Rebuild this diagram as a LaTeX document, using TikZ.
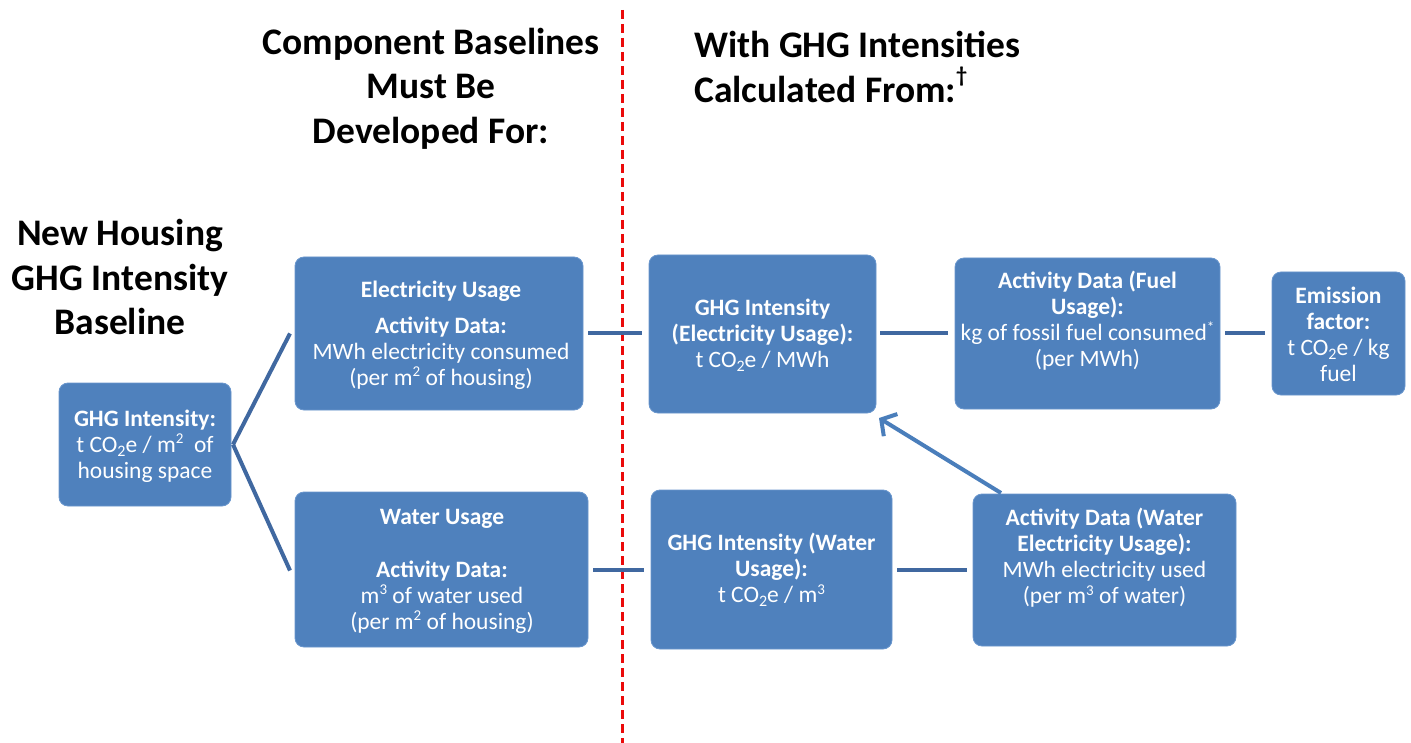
\documentclass[tikz,border=0pt]{standalone}
\usepackage{fontspec}
\setmainfont{Carlito}
\usetikzlibrary{calc,arrows.meta}
\definecolor{boxblue}{RGB}{79,129,189}
\definecolor{boxborder}{RGB}{105,150,205}
\definecolor{linkblue}{RGB}{64,104,160}
\definecolor{arrowblue}{RGB}{74,126,187}
\definecolor{dashred}{RGB}{235,10,10}
\newcommand{\mysub}[1]{\raisebox{-0.35ex}{\fontsize{16}{16}\selectfont #1}}
\newcommand{\mysup}[1]{\raisebox{0.75ex}{\fontsize{15}{15}\selectfont #1}}
\begin{document}
\begin{tikzpicture}[x=1pt,y=-1pt,
  box/.style={rounded corners=9pt, fill=boxblue, draw=boxborder, line width=0.8pt, inner sep=0pt, outer sep=0pt},
  btext/.style={text=white, align=center, font=\fontsize{23.5}{26}\selectfont, inner sep=0pt},
  titletext/.style={align=center, font=\fontsize{37.5}{44.5}\selectfont\bfseries, inner sep=0pt},
  link/.style={draw=linkblue, line width=4pt},
  upar/.style={draw=arrowblue, line width=4pt, -{Straight Barb[length=11pt,width=26pt]}}]
\useasboundingbox (0,0) rectangle (1411,743);
\fill[white] (0,0) rectangle (1411,743);

% titles
\node[titletext] (t1) at (120,277) {New Housing\\GHG Intensity\\Baseline};
\node[titletext] (t2) at (431,88.5) {Component Baselines\\Must Be\\Developed For:};
\node[titletext, align=left, anchor=west] (t3) at (694,67) {With GHG Intensities\\Calculated From:\raisebox{1.1ex}{\fontsize{22}{22}\selectfont\textdagger}};

% divider
\coordinate (rtop) at (622,10);
\coordinate (rbot) at (622,743);
\draw[dashred, line width=3pt, dash pattern=on 9pt off 5pt] (rtop) -- (rbot);

% boxes
\node[box, minimum width=172pt, minimum height=123pt] (A) at (145,444.5) {};
\node[box, minimum width=288pt, minimum height=153pt] (B) at (439,333.5) {};
\node[box, minimum width=293pt, minimum height=155pt] (C) at (441.5,569.5) {};
\node[box, minimum width=227pt, minimum height=158pt] (D) at (762.5,334) {};
\node[box, minimum width=265pt, minimum height=151pt] (E) at (1087.5,333.5) {};
\node[box, minimum width=133pt, minimum height=123pt] (F) at (1338.5,333.5) {};
\node[box, minimum width=241pt, minimum height=159pt] (G) at (771.5,569.5) {};
\node[box, minimum width=263pt, minimum height=152pt] (H) at (1104.5,570) {};

% box texts
\node[btext] (At) at (145,446) {\textbf{GHG Intensity:}\\t CO\mysub{2}e / m\mysup{2}\ \ of\\housing space};
\node[btext] (Bt) at (441,335) {\textbf{Electricity Usage}\\[10pt]\textbf{Activity Data:}\\MWh electricity consumed\\(per m\mysup{2} of housing)};
\node[btext] (Ct) at (442,571) {\textbf{Water Usage}\\[27pt]\textbf{Activity Data:}\\m\mysup{3} of water used\\(per m\mysup{2} of housing)};
\node[btext] (Dt) at (762.5,335) {\textbf{GHG Intensity}\\\textbf{(Electricity Usage):}\\t CO\mysub{2}e / MWh};
\node[btext] (Et) at (1087.5,321) {\textbf{Activity Data (Fuel}\\\textbf{Usage):}\\kg of fossil fuel consumed\mysup{*}\\(per MWh)};
\node[btext] (Ft) at (1338.5,334) {\textbf{Emission}\\\textbf{factor:}\\t CO\mysub{2}e / kg\\fuel};
\node[btext] (Gt) at (771.5,570) {\textbf{GHG Intensity (Water}\\\textbf{Usage):}\\t CO\mysub{2}e / m\mysup{3}};
\node[btext] (Ht) at (1104.5,558) {\textbf{Activity Data (Water}\\\textbf{Electricity Usage):}\\MWh electricity used\\(per m\mysup{3} of water)};

% connectors
\draw[link] ([xshift=2pt]A.east) -- ([xshift=-5pt]B.west);
\draw[link] ([xshift=2pt]A.east) -- ([xshift=-5pt,yshift=-1pt]C.west);
\draw[link, shorten <=5pt, shorten >=7pt] (B.east) -- (D.west |- B.east);
\draw[link, shorten <=5pt, shorten >=7pt] (C.east) -- (G.west |- C.east);
\draw[link, shorten <=4pt, shorten >=7pt] (D.east |- E.west) -- (E.west);
\draw[link, shorten <=5pt, shorten >=7pt] (E.east) -- (F.west |- E.east);
\draw[link, shorten <=5pt, shorten >=6pt] (G.east) -- (H.west |- G.east);
\draw[upar] ($(H.north west)+(28,-1)$) -- ($(D.south east)+(3,5)$);
\end{tikzpicture}
\end{document}
